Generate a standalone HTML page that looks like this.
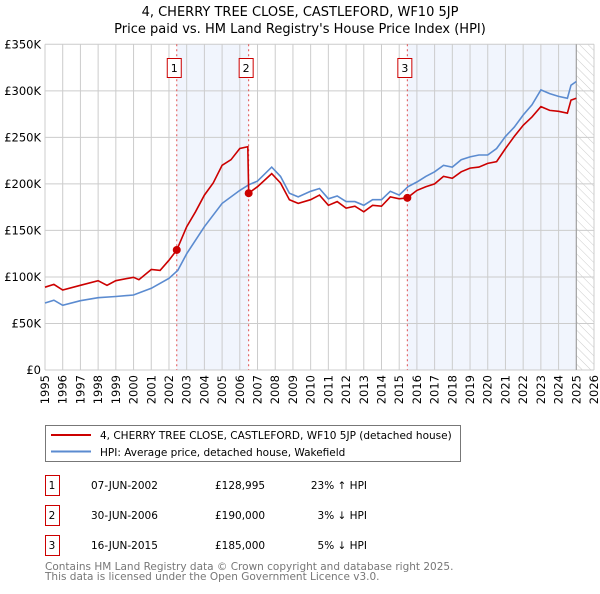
<!DOCTYPE html>
<html><head><meta charset="utf-8"><style>
body{margin:0;background:#fff;width:600px;height:590px;overflow:hidden;font-family:"DejaVu Sans","Liberation Sans",sans-serif}
svg text{font-family:"DejaVu Sans","Liberation Sans",sans-serif}
</style></head><body>
<svg id="chart" width="600" height="590" xmlns="http://www.w3.org/2000/svg">
<defs><pattern id="hatch" width="6" height="6" patternUnits="userSpaceOnUse" patternTransform="rotate(-45)"><line x1="0" y1="0" x2="0" y2="6" stroke="#ccc" stroke-width="1"/></pattern></defs>
<text x="300" y="16" text-anchor="middle" font-size="13">4, CHERRY TREE CLOSE, CASTLEFORD, WF10 5JP</text>
<text x="300" y="33" text-anchor="middle" font-size="13">Price paid vs. HM Land Registry's House Price Index (HPI)</text>
<g id="plot"></g>
<g>
<rect x="45.5" y="425.5" width="415" height="36" fill="#fff" stroke="#777"/>
<line x1="51" y1="435" x2="91" y2="435" stroke="#cc0000" stroke-width="2"/>
<text x="100" y="439" font-size="10.5">4, CHERRY TREE CLOSE, CASTLEFORD, WF10 5JP (detached house)</text>
<line x1="51" y1="451.5" x2="91" y2="451.5" stroke="#5b8bd0" stroke-width="2"/>
<text x="100" y="456" font-size="10.5">HPI: Average price, detached house, Wakefield</text>
</g>
<g id="table" font-size="10.5"></g>
<text x="45" y="570" font-size="10.5" fill="#777">Contains HM Land Registry data © Crown copyright and database right 2025.</text>
<text x="45" y="580" font-size="10.5" fill="#777">This data is licensed under the Open Government Licence v3.0.</text>
</svg>
<script>
const yTicks=[0,50,100,150,200,250,300,350];
const yTickLabels=["£0","£50K","£100K","£150K","£200K","£250K","£300K","£350K"];
const years=[1995,1996,1997,1998,1999,2000,2001,2002,2003,2004,2005,2006,2007,2008,2009,2010,2011,2012,2013,2014,2015,2016,2017,2018,2019,2020,2021,2022,2023,2024,2025,2026];
const hpiDates=[1995,1995.5,1996,1997,1998,1999,2000,2001,2002,2002.5,2003,2004,2005,2006,2006.5,2007,2007.8,2008.3,2008.8,2009.3,2010,2010.5,2011,2011.5,2012,2012.5,2013,2013.5,2014,2014.5,2015,2015.5,2016,2016.5,2017,2017.5,2018,2018.5,2019,2019.5,2020,2020.5,2021,2021.5,2022,2022.5,2023,2023.5,2024,2024.5,2024.7,2025];
const hpiValues=[72,75,69.5,74.5,77.7,79,80.6,87.8,98.5,107,125,154,179,193,199,203,218,208,190,186,192,195,184,187,181,181,177,183,183,192,188,197,202,208,213,220,218,226,229,231,231,238,251,261,274,285,301,297,294,292,306,310];
const priceDates=[1995,1995.5,1996,1997,1998,1998.5,1999,2000,2000.3,2001,2001.5,2002,2002.44,2003,2003.5,2004,2004.5,2005,2005.5,2006,2006.45,2006.5,2007,2007.8,2008.3,2008.8,2009.3,2010,2010.5,2011,2011.5,2012,2012.5,2013,2013.5,2014,2014.5,2015,2015.46,2016,2016.5,2017,2017.5,2018,2018.5,2019,2019.5,2020,2020.5,2021,2021.5,2022,2022.5,2023,2023.5,2024,2024.5,2024.7,2025];
const priceValues=[89,92,86,91,96,91,96,99.6,97,108,107,118,129,154,170,188,201,220,226,238,240,190,197,211,201,183,179,183,188,177,181,174,176,170,177,176,186,184,185,193,197,200,208,206,213,217,218,222,224,238,251,263,272,283,279,278,276,290,292];
const saleLabels=["1","2","3"];
const saleDates=[2002.44,2006.5,2015.46];
const saleValues=[128.995,190,185];
const saleDateText=["07-JUN-2002","30-JUN-2006","16-JUN-2015"];
const salePriceText=["£128,995","£190,000","£185,000"];
const saleHpiText=["23% ↑ HPI","3% ↓ HPI","5% ↓ HPI"];

const X0=45,X1=594,Y0=370,Y1=44.3;
const xs=t=>X0+(t-1995)/(2026-1995)*(X1-X0);
const ys=v=>Y0-v/350*(Y0-Y1);
const NS="http://www.w3.org/2000/svg";
function mk(p,tag,at){const e=document.createElementNS(NS,tag);for(const k in at)e.setAttribute(k,at[k]);p.appendChild(e);return e;}
const plot=document.getElementById('plot');
for(let i=0;i<saleDates.length;i++){
  const a=saleDates[i], b=i<saleDates.length-1?saleDates[i+1]:2025;
  if(i===1) continue;
  const r=mk(plot,'rect',{x:xs(a),y:Y1,width:xs(b)-xs(a),height:Y0-Y1,fill:'#eef3fc',opacity:0.8});
  
  
}
const h=mk(plot,'rect',{x:xs(2025),y:Y1,width:X1-xs(2025),height:Y0-Y1,fill:'url(#hatch)'});


years.forEach(y=>{
  const l=mk(plot,'line',{x1:xs(y),x2:xs(y),y1:Y1,y2:Y0,stroke:'#ccc'});
  
  
  const t=mk(plot,'text',{transform:`translate(${xs(y)+4},${Y0+5}) rotate(-90)`,'text-anchor':'end','font-size':'11.5'});
  t.textContent=y;
  
  
});
yTicks.forEach((v,i)=>{
  const l=mk(plot,'line',{x1:X0,x2:X1,y1:ys(v),y2:ys(v),stroke:'#ccc'});
  
  
  const t=mk(plot,'text',{x:X0-4,y:ys(v)+4,'text-anchor':'end','font-size':'11.5'});
  t.textContent=yTickLabels[i];
  
  
});
const nl=mk(plot,'line',{x1:xs(2025),x2:xs(2025),y1:Y1,y2:Y0,stroke:'#999'});


saleDates.forEach((d,i)=>{
  const l=mk(plot,'line',{x1:xs(d),x2:xs(d),y1:Y1,y2:Y0,stroke:'#e05050','stroke-dasharray':'2,3','stroke-width':1});
  
  
  const r=mk(plot,'rect',{x:xs(d)-9.5,y:58.5,width:14,height:19,fill:'#fff',stroke:'#cc0000'});
  
  
  const t=mk(plot,'text',{x:xs(d)-2.5,y:72,'text-anchor':'middle','font-size':'11'});
  t.textContent=saleLabels[i];
  
  
});
function line(ds,vs,col,name){
  const p=mk(plot,'path',{d:ds.map((d,i)=>(i?'L':'M')+xs(d).toFixed(1)+','+ys(vs[i]).toFixed(1)).join(''),fill:'none',stroke:col,'stroke-width':1.6});
  
  
}
line(hpiDates,hpiValues,'#5b8bd0','hpi-line');
line(priceDates,priceValues,'#cc0000','price-line');
saleDates.forEach((d,i)=>{
  const c=mk(plot,'circle',{cx:xs(d),cy:ys(saleValues[i]),r:4,fill:'#cc0000'});
  
  
});
const tb=document.getElementById('table');
saleLabels.forEach((s,i)=>{
  const y=475+i*30;
  const r=mk(tb,'rect',{x:45.5,y:y+0.5,width:14,height:20,fill:'#fff',stroke:'#cc0000'});
  
  
  const cells=[[52,s,'middle'],[91,saleDateText[i],'start'],[215,salePriceText[i],'start'],[367,saleHpiText[i],'end']];
  cells.forEach(c=>{
    const t=mk(tb,'text',{x:c[0],y:y+14,'text-anchor':c[2]});
    t.textContent=c[1];
    
    
  });
});
</script>
</body></html>
